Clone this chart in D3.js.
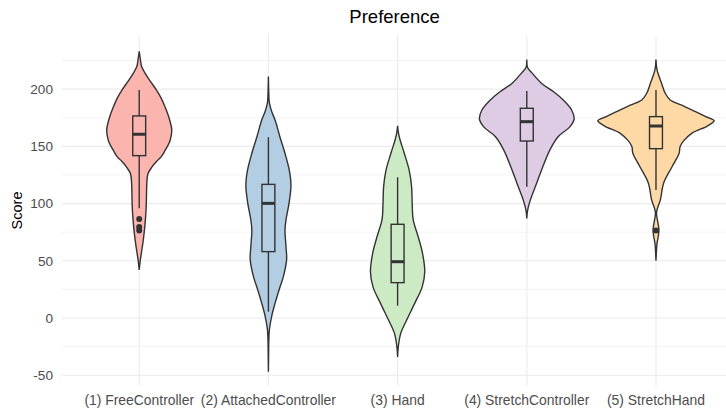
<!DOCTYPE html>
<html>
<head>
<meta charset="utf-8">
<script src="https://cdn.jsdelivr.net/npm/d3@7"></script>
<style>
  body { margin: 0; background: #fff; }
  svg { display: block; font-family: "Liberation Sans", Arial, sans-serif; }
</style>
</head>
<body>
<div id="chart"></div>
<script>
let width = 726;
let height = 410;

const categories = ["(1) FreeController", "(2) AttachedController", "(3) Hand", "(4) StretchController", "(5) StretchHand"];
const colors = ["#FBB4AE", "#B3CDE3", "#CCEBC5", "#DECBE4", "#FED9A6"];

// violin profiles: [score, relative density]
const violin1 = [[233,0],[226,2],[220,4],[214,10],[207,19],[199,30],[192,38],[185,44],[177,50],[170,54],[164,56],[155,53],[146,44],[141,38],[137,30],[132,22],[126,15],[117,13],[107,12.5],[97,12],[82,10],[68,7],[56,3.5],[50,1.7],[42,0]];
const violin2 = [[211,0],[200,0.5],[188,1.7],[180,6],[173,11.5],[158,20],[144,28.5],[129,36],[116,38.8],[100,35.4],[86,30.3],[77,28.5],[62,30.3],[51,31.3],[36,25.6],[24.5,18.3],[13,11.5],[1.5,5.6],[-10,1.7],[-20,0.7],[-35,0.3],[-47,0]];
const violin3 = [[168,0],[162,1.4],[155.6,4.3],[144,11.5],[129,20],[115,24],[100,25.1],[86,26.8],[71,35.4],[57,42.7],[40.5,46.7],[27,42.2],[13,29.6],[-2,15.4],[-13,5.6],[-25,1.2],[-34,0]];
const violin4 = [[226,0],[219,1.4],[214.5,8.5],[205,25.6],[198,45.6],[190.6,62.7],[182,76.9],[174,81.5],[167,74],[158.6,54.2],[147,39.8],[132,27.4],[118,17.1],[103,6],[94,1.4],[87,0]];
const violin5 = [[226,0],[217,1.7],[205,9.7],[196.4,15.9],[190.6,24.4],[186,44.4],[182,61.5],[176,85.5],[172.5,100],[168,88.9],[161.4,61.5],[155,47.9],[150,41.5],[144,39.8],[132,27.4],[118,13.2],[103,7.4],[96,2.6],[91.5,0.9],[83,3.4],[77,5.1],[71,3.8],[65,1.7],[58,0.7],[50,0]];
const violins = [violin1, violin2, violin3, violin4, violin5];

// box plot summaries
const q1s = [141.9, 58, 30.9, 154.7, 148];
const medians = [160.6, 100.2, 49.2, 171.6, 167.8];
const q3s = [176.6, 116.8, 81.9, 183.3, 176];
const whiskerLo = [95.9, 5.5, 10.8, 114.8, 111.9];
const whiskerHi = [199.3, 158, 123, 198.4, 199.3];
const outliers = [[86.5, 79.5, 76.5], [], [], [], [76.5]];

const majorTicks = [-50, 0, 50, 100, 150, 200];
const minorTicks = [-25, 25, 75, 125, 175, 225];

const panel = { left: 61.7, right: 733.5, top: 35.4, bottom: 385.5 };

const svg = d3
  .select("#chart")
  .append("svg")
  .attr("width", width)
  .attr("height", height);

const xScale = d3
  .scalePoint()
  .domain(categories)
  .range([panel.left, panel.right])
  .padding(0.6);

const yScale = d3
  .scaleLinear()
  .domain([-59, 247])
  .range([panel.bottom, panel.top]);

const step = xScale.step();
const wScale = d3.scaleLinear().domain([0, 100]).range([0, 0.45 * step]);

// grid
const grid = svg.append("g");
grid
  .selectAll(".minor")
  .data(minorTicks)
  .enter()
  .append("line")
  .attr("x1", panel.left)
  .attr("x2", width)
  .attr("y1", (d) => yScale(d))
  .attr("y2", (d) => yScale(d))
  .attr("stroke", "#F0F0F0")
  .attr("stroke-width", 0.8);

grid
  .selectAll(".major")
  .data(majorTicks)
  .enter()
  .append("line")
  .attr("x1", panel.left)
  .attr("x2", width)
  .attr("y1", (d) => yScale(d))
  .attr("y2", (d) => yScale(d))
  .attr("stroke", "#EBEBEB")
  .attr("stroke-width", 1.1);

grid
  .selectAll(".vert")
  .data(categories)
  .enter()
  .append("line")
  .attr("x1", (d) => xScale(d))
  .attr("x2", (d) => xScale(d))
  .attr("y1", panel.top)
  .attr("y2", panel.bottom)
  .attr("stroke", "#EBEBEB")
  .attr("stroke-width", 1.1);

// violins
categories.forEach((cat, i) => {
  const cx = xScale(cat);
  const area = d3
    .area()
    .y((d) => yScale(d[0]))
    .x0((d) => cx - wScale(d[1]))
    .x1((d) => cx + wScale(d[1]))
    .curve(d3.curveCatmullRom.alpha(0.5));

  svg
    .append("path")
    .datum(violins[i])
    .attr("d", area)
    .attr("fill", colors[i])
    .attr("stroke", "#333333")
    .attr("stroke-width", 1.4);

  const bw = 0.05 * step;
  const g = svg.append("g").attr("stroke", "#333333");

  g.append("line")
    .attr("x1", cx).attr("x2", cx)
    .attr("y1", yScale(whiskerHi[i])).attr("y2", yScale(q3s[i]))
    .attr("stroke-width", 1.4);
  g.append("line")
    .attr("x1", cx).attr("x2", cx)
    .attr("y1", yScale(q1s[i])).attr("y2", yScale(whiskerLo[i]))
    .attr("stroke-width", 1.4);
  g.append("rect")
    .attr("x", cx - bw)
    .attr("width", 2 * bw)
    .attr("y", yScale(q3s[i]))
    .attr("height", yScale(q1s[i]) - yScale(q3s[i]))
    .attr("fill", colors[i])
    .attr("stroke-width", 1.4);
  g.append("line")
    .attr("x1", cx - bw).attr("x2", cx + bw)
    .attr("y1", yScale(medians[i])).attr("y2", yScale(medians[i]))
    .attr("stroke-width", 3);

  svg
    .selectAll(`.out-${i}`)
    .data(outliers[i])
    .enter()
    .append("circle")
    .attr("cx", cx)
    .attr("cy", (d) => yScale(d))
    .attr("r", 3)
    .attr("fill", "#333333");
});

// axes text
svg
  .append("g")
  .selectAll("text")
  .data(majorTicks)
  .enter()
  .append("text")
  .attr("x", 53)
  .attr("y", (d) => yScale(d))
  .attr("dy", "0.35em")
  .attr("text-anchor", "end")
  .attr("font-size", 13.6)
  .attr("fill", "#4D4D4D")
  .text((d) => d);

svg
  .append("g")
  .selectAll("text")
  .data(categories)
  .enter()
  .append("text")
  .attr("x", (d) => xScale(d))
  .attr("y", 405)
  .attr("text-anchor", "middle")
  .attr("font-size", 13.9)
  .attr("fill", "#4D4D4D")
  .text((d) => d);

svg
  .append("text")
  .attr("text-anchor", "middle")
  .attr("transform", `translate(22,${(panel.top + panel.bottom) / 2}) rotate(-90)`)
  .attr("font-size", 14.5)
  .attr("fill", "#000")
  .text("Score");

svg
  .append("text")
  .attr("text-anchor", "middle")
  .attr("x", (panel.left + panel.right) / 2 - 3)
  .attr("y", 23)
  .attr("font-size", 18.5)
  .attr("fill", "#000")
  .text("Preference");
</script>
</body>
</html>
